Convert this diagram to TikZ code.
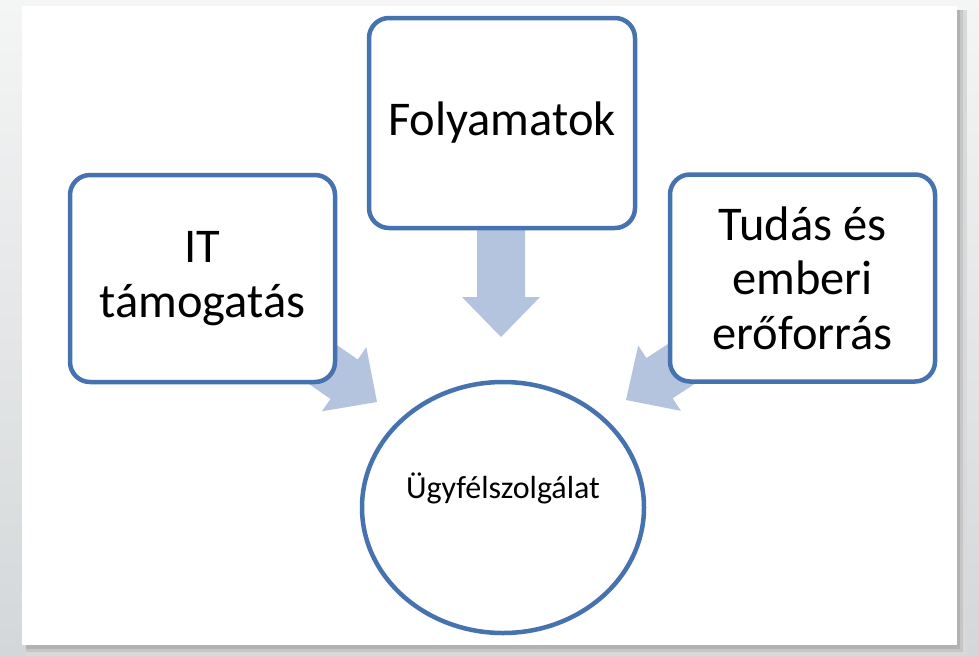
\documentclass[tikz,border=0pt]{standalone}
\usepackage{fontspec}
\setmainfont{Carlito}
\usetikzlibrary{shapes.geometric}
\definecolor{boxblue}{RGB}{70,115,175}
\definecolor{arrowblue}{RGB}{180,196,222}
\definecolor{bgtop}{RGB}{244,245,245}
\definecolor{bgbot}{RGB}{212,215,217}
\tikzset{
  topicbox/.style={draw=boxblue, line width=4.5pt, fill=white, rounded corners=20pt,
    minimum width=265pt, minimum height=207pt, align=center, inner sep=0pt,
    font=\fontsize{48.5}{54.5}\selectfont, text=black},
  hubshape/.style={ellipse, draw=boxblue, line width=4.5pt, fill=white,
    minimum width=282pt, minimum height=251pt, inner sep=0pt},
  hubtext/.style={font=\fontsize{32}{38}\selectfont, text=black, inner sep=0pt},
  blockarrow/.style={fill=arrowblue}
}
\newcommand{\blockarrowpath}{(0,0) -- (-40,39) -- (-40,24) -- (-150,24) -- (-150,-24) -- (-40,-24) -- (-40,-39) -- cycle}
\begin{document}
\begin{tikzpicture}[x=1pt,y=-1pt]
\useasboundingbox (0,0) rectangle (979,656);
% background
\shade[top color=bgtop, bottom color=bgbot] (0,0) rectangle (979,656);
% shadow
\fill[gray!30] (26,10) rectangle (967,656);
\fill[gray!45] (26,10) rectangle (963,652);
\fill[gray!60] (26,10) rectangle (960,649);
\fill[white] (22,6) rectangle (957,645);
% arrows
\coordinate (tipL) at (377,402);
\coordinate (tipT) at (501,337);
\coordinate (tipR) at (626,400);
\begin{scope}[shift={(tipT)}, rotate=-90]
  \fill[blockarrow] \blockarrowpath;
\end{scope}
\begin{scope}[shift={(tipL)}, rotate=-34.7]
  \fill[blockarrow] \blockarrowpath;
\end{scope}
\begin{scope}[shift={(tipR)}, rotate=-146.9]
  \fill[blockarrow] \blockarrowpath;
\end{scope}
% boxes
\node[topicbox] (it) at (202.5,278.5) {IT\\támogatás};
\node[topicbox, minimum width=266pt, minimum height=210pt] (proc) at (502,123) {Folyamatok};
\node[topicbox] (hr) at (802.5,278) {Tudás és\\emberi\\erőforrás};
% hub
\node[hubshape] (hub) at (503,507.5) {};
\node[hubtext] (hublabel) at (503,488) {Ügyfélszolgálat};
\end{tikzpicture}
\end{document}
